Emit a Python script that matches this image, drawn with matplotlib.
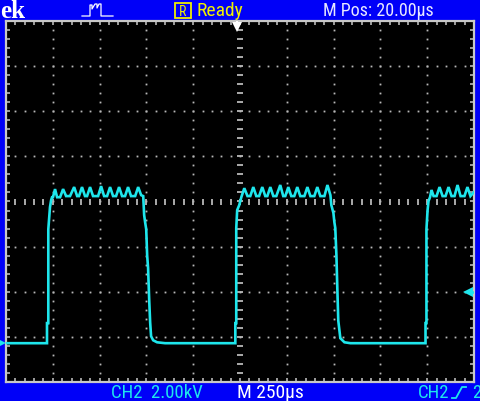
import matplotlib
matplotlib.use("Agg")
import matplotlib.pyplot as plt
import numpy as np
from matplotlib.patches import Rectangle
from matplotlib.lines import Line2D
import logging

# scope settings
US_PER_DIV = 250
KV_PER_DIV = 2.0
GROUND_DIV = -3.14
TRIG_LEVEL_KV = 2.26
TRIG_POS_US = 1235

# CH2 trace (time in us, voltage in kV)
trace_t = [0, 200, 219, 219, 226, 226, 235, 241, 246, 251, 262, 273, 289, 305, 321, 342,
           364, 380, 390, 406, 422, 433, 449, 465, 492, 508, 524, 540, 556, 572, 588,
           604, 620, 636, 652, 668, 690, 706, 722, 733, 738, 743, 749, 754, 759, 765,
           770, 775, 786, 807, 850,
           1200, 1225, 1225, 1230, 1230, 1235, 1246, 1257, 1273, 1290, 1305, 1321, 1337,
           1352, 1369, 1385, 1396, 1412, 1428, 1444, 1465, 1481, 1492, 1508, 1524, 1540,
           1556, 1572, 1594, 1610, 1626, 1647, 1663, 1679, 1701, 1717, 1733, 1738, 1749,
           1754, 1759, 1765, 1770, 1775, 1786, 1808, 1840,
           2220, 2241, 2241, 2246, 2246, 2252, 2257, 2265, 2273, 2284, 2300, 2316, 2332,
           2348, 2364, 2380, 2396, 2412, 2428, 2449, 2465, 2481, 2500]
trace_kv = [0.0, 0.0, 0.0, 0.89, 0.89, 5.05, 6.03, 6.34, 6.47, 6.47, 6.83, 6.47, 6.47, 6.83,
            6.52, 6.52, 6.92, 6.52, 6.52, 6.92, 6.52, 6.52, 6.92, 6.52, 6.52, 6.96, 6.52,
            6.52, 6.92, 6.52, 6.52, 6.92, 6.52, 6.52, 6.92, 6.52, 6.52, 6.92, 6.56, 6.52,
            5.68, 5.37, 5.05, 3.90, 3.33, 1.91, 0.93, 0.31, 0.13, 0.04, 0.0,
            0.0, 0.0, 0.89, 0.89, 5.10, 5.90, 6.12, 6.47, 6.87, 6.52, 6.52, 6.92, 6.52,
            6.52, 6.92, 6.52, 6.52, 6.92, 6.52, 6.52, 7.01, 6.52, 6.52, 6.92, 6.52, 6.52,
            6.92, 6.52, 6.52, 6.92, 6.52, 6.52, 6.92, 6.52, 6.52, 7.01, 6.56, 6.12, 5.77,
            5.37, 5.10, 3.90, 2.40, 1.00, 0.22, 0.04, 0.0,
            0.0, 0.0, 0.89, 0.89, 5.05, 5.90, 6.30, 6.47, 6.79, 6.52, 6.52, 6.92, 6.52,
            6.52, 6.92, 6.52, 6.52, 7.01, 6.52, 6.52, 6.92, 6.52, 6.70]

BLUE = "#0000F8"
CYAN = "#1EE6EC"
GRID = "#B8B8B8"
W, H = 480, 401

# scope font is a narrow sans; take the first one that is installed
NARROW = ["Liberation Sans Narrow", "Roboto Condensed", "DejaVu Sans Condensed",
          "Roboto", "DejaVu Sans"]
logging.getLogger("matplotlib.font_manager").setLevel(logging.ERROR)


def fx(x):
    return x / W


def fy(y):
    return 1 - y / H


fig = plt.figure(figsize=(4.8, 4.01), dpi=100, facecolor=BLUE)
ax = fig.add_axes([fx(6), fy(382), (474 - 6) / W, (382 - 21) / H], facecolor="black")
ax.set_xlim(0, 10 * US_PER_DIV)
ax.set_ylim(-4, 4)

# frame with small ticks all around
for s in ax.spines.values():
    s.set_color("#C8C8C8")
    s.set_linewidth(1.6)
ax.set_xticks(np.arange(0, 10 * US_PER_DIV + 1, US_PER_DIV / 5))
ax.set_yticks(np.arange(-4, 4.01, 0.2))
ax.tick_params(direction="in", length=3, width=1.1, color="#C8C8C8",
               top=True, right=True, labelbottom=False, labelleft=False)

# dotted graticule
fine_x = np.arange(0, 10 * US_PER_DIV + 1, US_PER_DIV / 5)[1:-1]
fine_y = np.arange(-4, 4.01, 0.2)[1:-1]
for k in range(1, 10):
    if k == 5:
        continue
    ax.plot(np.full(len(fine_y), k * US_PER_DIV), fine_y, ls="none", marker="s",
            ms=1.3, mew=0, color=GRID)
for k in range(-3, 4):
    if k == 0:
        continue
    ax.plot(fine_x, np.full(len(fine_x), k), ls="none", marker="s",
            ms=1.3, mew=0, color=GRID)
# centre cross with dashes
ax.plot(np.full(len(fine_y), 5 * US_PER_DIV), fine_y, ls="none", marker="_",
        ms=4, mew=1.3, color=GRID)
ax.plot(fine_x, np.zeros(len(fine_x)), ls="none", marker="|",
        ms=4, mew=1.3, color=GRID)

# waveform
ax.plot(trace_t, GROUND_DIV + np.array(trace_kv) / KV_PER_DIV, color=CYAN, lw=1.9,
        solid_joinstyle="miter", zorder=5)

# trigger position (top) and trigger level (right)
ax.plot([TRIG_POS_US], [3.86], marker="v", ms=7, mew=0, color="white", zorder=6)
ax.plot([TRIG_POS_US, TRIG_POS_US], [4, 3.86], color="white", lw=1.5, zorder=6)
trig_y = GROUND_DIV + TRIG_LEVEL_KV / KV_PER_DIV
ax.plot([2470], [trig_y], marker="<", ms=7, mew=0, color=CYAN, zorder=6)
ax.plot([2470, 2500], [trig_y, trig_y], color=CYAN, lw=1.8, zorder=6)
# ground marker for CH2 on the left edge
ax.plot([-22], [GROUND_DIV], marker=">", ms=6, mew=0, color=CYAN, clip_on=False, zorder=6)

# top status bar ("Tek" logo, only "ek" is on screen)
fig.text(fx(0), fy(18), "ek", color="white", fontsize=18, fontweight="bold",
         family=["Liberation Serif", "DejaVu Serif"], va="baseline")
icon_x = [82, 88, 90, 90, 92, 92, 95, 97, 97, 99, 101, 101, 103, 113]
icon_y = [16, 16, 16, 5, 5, 9, 4, 4, 8, 4, 4, 16, 16, 16]
fig.add_artist(Line2D([fx(x) for x in icon_x], [fy(y) for y in icon_y],
                      color="white", lw=0.9))
fig.add_artist(Rectangle((fx(175), fy(18)), 16 / W, 15 / H, fill=False,
                         edgecolor="#F0F000", lw=1.3))
fig.text(fx(183), fy(16), "R", color="#F0F000", fontsize=10, family=NARROW,
         ha="center", va="baseline")
fig.text(fx(197), fy(16.5), "Ready", color="#F0F000", fontsize=14, family=NARROW,
         va="baseline")
fig.text(fx(323), fy(16.5), "M Pos: 20.00\u00b5s", color="#E8E8FF", fontsize=13,
         family=NARROW, va="baseline")

# bottom status bar
fig.text(fx(111), fy(398), "CH2  2.00kV", color=CYAN, fontsize=13.5, family=NARROW,
         va="baseline")
fig.text(fx(237), fy(398), "M 250\u00b5s", color="white", fontsize=14, family=NARROW,
         va="baseline")
fig.text(fx(418), fy(398), "CH2", color=CYAN, fontsize=13.5, family=NARROW, va="baseline")
edge_x = [452, 456, 462, 466]
edge_y = [398, 398, 387, 387]
fig.add_artist(Line2D([fx(x) for x in edge_x], [fy(y) for y in edge_y], color=CYAN, lw=1.3))
fig.text(fx(472), fy(398), "2", color=CYAN, fontsize=13.5, family=NARROW, va="baseline")

fig.savefig("out.png", dpi=100, facecolor=BLUE)
